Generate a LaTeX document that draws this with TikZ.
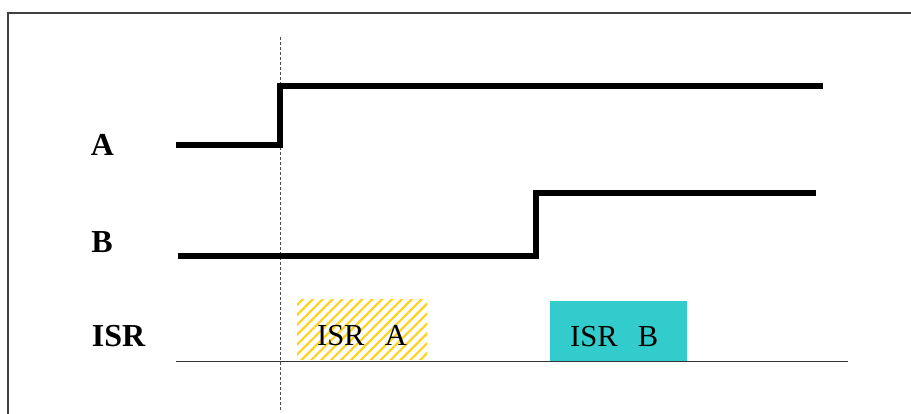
\documentclass[tikz,border=0pt]{standalone}
\usepackage{fontspec}
\setmainfont{Liberation Serif}
\usetikzlibrary{patterns.meta}
\definecolor{isrteal}{HTML}{33CCCC}
\definecolor{isrgold}{HTML}{FFD21F}
\begin{document}
\begin{tikzpicture}[x=1pt, y=-1pt,
    signal/.style={line width=5.5pt, line join=miter},
    signame/.style={font=\fontsize{32}{36}\selectfont\bfseries},
    isrbox/.style 2 args={anchor=south west, minimum width=#1, text width=#2,
        minimum height=60pt, inner xsep=20pt, inner ysep=0pt, align=left,
        text height=36pt, text depth=4pt, font=\fontsize{30.5}{36}\selectfont}]
    \useasboundingbox (0,0) rectangle (911,414);

    % Frame
    \draw[line width=1.2pt, black!75] (8,414) -- (8,13) -- (911,13);

    % Trigger marker
    \draw[densely dashed, line width=0.6pt, black!70] (280,37) -- (280,410);

    % Signal names
    \node[signame] (A) at (102.5,145) {A};
    \node[signame] (B) at (102,242) {B};
    \node[signame] (ISR) at (118.5,336) {ISR};

    % Signals
    \draw[signal] (176,145) -- (280,145) -- (280,86) -- (823,86);
    \draw[signal] (178,256) -- (536,256) -- (536,193) -- (816,193);

    % Interrupt service routines
    \node[isrbox={130pt}{90pt}, pattern={Lines[angle=45, distance=7pt, line width=2.2pt]},
        pattern color=isrgold] (isrA) at (296,361) {ISR~~A};
    \node[isrbox={137pt}{97pt}, fill=isrteal] (isrB) at (550,361) {ISR~~B};
    \draw[line width=1pt, black!80] (176,361) -- (848,361);
\end{tikzpicture}
\end{document}
